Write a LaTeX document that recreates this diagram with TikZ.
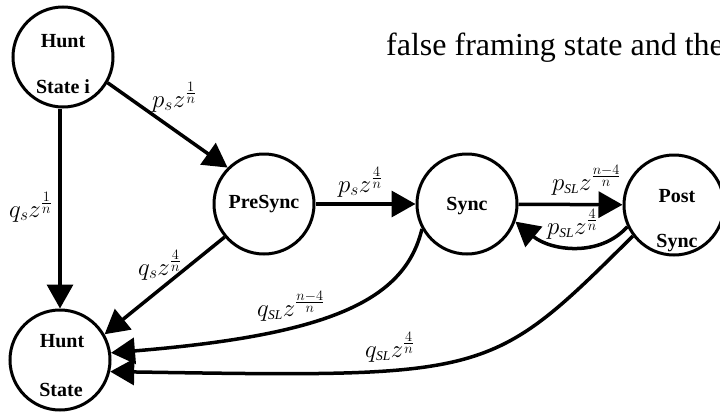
\documentclass[tikz,border=0pt]{standalone}
\usepackage{fontspec}
\setmainfont{Liberation Serif}
\usetikzlibrary{arrows.meta}
\newcommand{\sLsub}{{\scriptscriptstyle\mathit{SL}}}
\begin{document}
\begin{tikzpicture}[x=1pt,y=-1pt,
  state/.style={circle,draw,line width=3pt,minimum size=100pt,inner sep=0pt},
  slbl/.style={font=\fontsize{20}{20}\selectfont\bfseries,inner sep=0pt},
  edge/.style={line width=3.5pt,-{Triangle[length=24pt,width=26pt]}},
  elab/.style={font=\fontsize{27}{27}\selectfont,inner sep=0pt,anchor=base west}]
\useasboundingbox (0,0) rectangle (720,415);
% states
\node[state] (hi) at (63,57) {};
\node[state] (h) at (60,360) {};
\node[state] (pre) at (264,204) {};
\node[state] (sync) at (467,204) {};
\node[state] (post) at (674,205) {};
% state texts
\node[slbl] (hiA) at (63,41) {Hunt};
\node[slbl] (hiB) at (63,87) {State i};
\node[slbl] (hA) at (62,341) {Hunt};
\node[slbl] (hB) at (61,390) {State};
\node[slbl] (preA) at (264,204) {PreSync};
\node[slbl] (syncA) at (467,206) {Sync};
\node[slbl] (postA) at (677,196) {Post};
\node[slbl] (postB) at (677,243) {Sync};
% top text
\node[font=\fontsize{32}{32}\selectfont,anchor=base west,inner sep=0pt] (txt) at (386,55) {false framing state and the};
% connectors
\draw[edge] (hi.-30) -- (pre.135);
\draw[edge] (h.north |- hi.south) -- (h.north);
\draw[edge] (pre) -- (sync);
\draw[edge] (pre.220) -- (h.30);
\draw[edge] (sync) -- (post);
\draw[edge] (post.205) .. controls +(-28,31) and +(35,29) .. (sync.340);
\draw[edge] (sync.209) .. controls +(-17,71) and +(220,-18) .. (h.8);
\draw[edge] (post.217) .. controls +(-143,142) and +(380,6) .. (h.-13);
% connector labels
\node[elab] (l1) at (152,107) {$p_{s}z^{\frac{1}{n}}$};
\node[elab] (l2) at (9,217) {$q_{s}z^{\frac{1}{n}}$};
\node[elab] (l3) at (338,192) {$p_{s}z^{\frac{4}{n}}$};
\node[elab] (l4) at (138,275) {$q_{s}z^{\frac{4}{n}}$};
\node[elab] (l5) at (552,190) {$p_{\sLsub}z^{\frac{n-4}{n}}$};
\node[elab] (l6) at (547,234) {$p_{\sLsub}z^{\frac{4}{n}}$};
\node[elab] (l7) at (257,316) {$q_{\sLsub}z^{\frac{n-4}{n}}$};
\node[elab] (l8) at (365,357) {$q_{\sLsub}z^{\frac{4}{n}}$};
\end{tikzpicture}
\end{document}
